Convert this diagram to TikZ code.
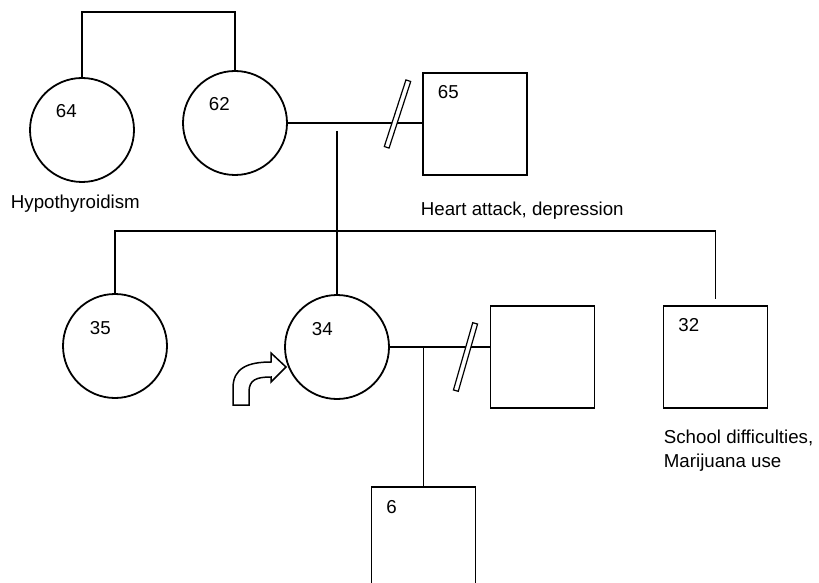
\documentclass[tikz,border=0pt]{standalone}
\usepackage{fontspec}
\setmainfont{Liberation Sans}
\usetikzlibrary{positioning}
\begin{document}
\begin{tikzpicture}[x=1bp,y=-1bp,line width=1.8bp,
    female/.style={draw,circle,minimum size=104bp,inner sep=0},
    male/.style={draw,rectangle,minimum width=104bp,minimum height=102bp,inner sep=0},
    age/.style={anchor=west,inner sep=0,font=\fontsize{18.7bp}{24bp}\selectfont},
    note/.style={anchor=base west,inner sep=0,font=\fontsize{18.7bp}{24bp}\selectfont},
    divorce/.style={draw,fill=white,rectangle,minimum width=70bp,minimum height=5bp,inner sep=0,line width=1.2bp}]
    \useasboundingbox (0,0) rectangle (819,583);
    %disegno nonni
    \node[female] (p64) at (82,130) {};
    \node[female] (p62) at (235,123) {};
    \node[male] (p65) at (475,124) {};
    \node[age] (n64) at ([shift={(-27,-19)}]p64.center) {64};
    \node[age] (n62) at ([shift={(-27,-19)}]p62.center) {62};
    \node[age] (n65) at ([shift={(-38,-32)}]p65.center) {65};
    \coordinate (top) at (0,12);
    \draw (p64.north) |- (p62.north |- top) -- (p62.north);
    %matrimonio e divorzio
    \draw (p62.east) -- (p62.east -| p65.west);
    \node[divorce,rotate=72] (d1) at (397.5,114) {};
    %figli
    \node[female] (p35) at (115,346) {};
    \node[female] (p34) at (337,347) {};
    \node[male] (sp) at (542.5,357) {};
    \node[male] (p32) at (715.5,357) {};
    \node[age] (n35) at ([shift={(-26,-18)}]p35.center) {35};
    \node[age] (n34) at ([shift={(-26,-18)}]p34.center) {34};
    \node[age] (n32) at ([shift={(-38,-32)}]p32.center) {32};
    \coordinate (m1) at (337,131);
    \coordinate (fr) at (0,231);
    \coordinate (s2) at (715.5,299);
    \draw (m1) -- (p34.north);
    \draw (p35.north) |- (s2 |- fr) -- (s2);
    %secondo matrimonio
    \draw (p34.east) -- (p34.east -| sp.west);
    \node[divorce,rotate=74] (d2) at (465.5,357) {};
    \node[male] (p6) at (423.5,538) {};
    \node[age] (n6) at ([shift={(-38,-31)}]p6.center) {6};
    \draw (p6.north |- p34.east) -- (p6.north);
    %freccia probando
    \draw[line width=1.5bp] (233,405) -- (233,388) .. controls (233,368) and (248,362) .. (271,362)
        -- (271,353) -- (286,367) -- (271,382) -- (271,377)
        .. controls (256,377) and (249,380) .. (249,392) -- (249,405) -- cycle;
    %note
    \node[note] (hypo) at (10,209) {Hypothyroidism};
    \node[note] (heart) at (420,216) {Heart attack, depression};
    \node[note,align=left,anchor=north west] (school) at (663,429) {School difficulties,\\Marijuana use};
\end{tikzpicture}
\end{document}
